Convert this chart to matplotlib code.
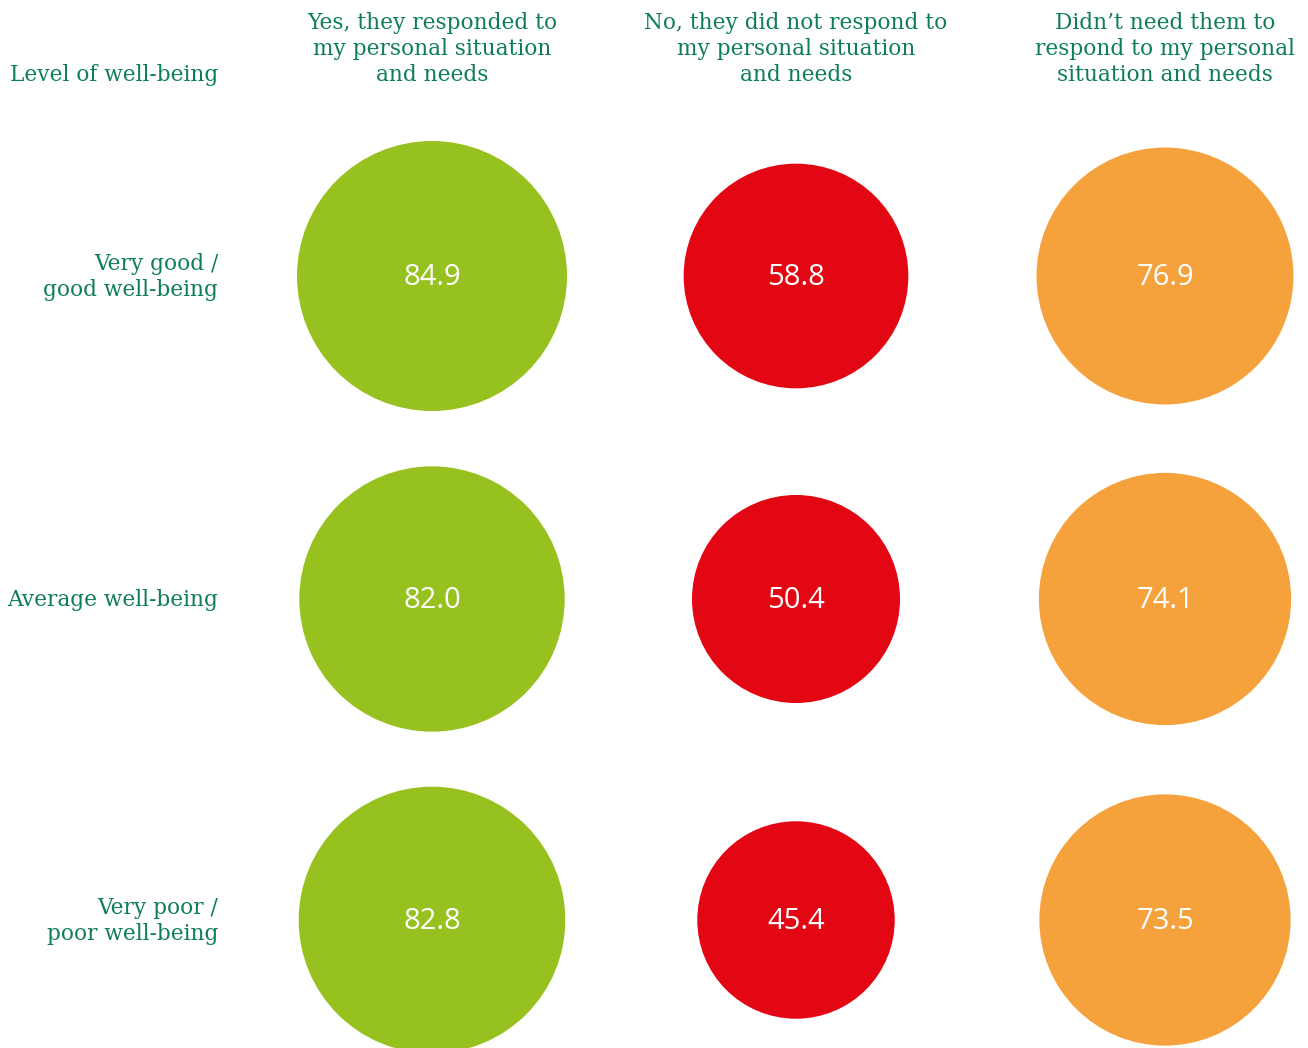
import matplotlib.pyplot as plt
import numpy as np
from matplotlib.patches import Circle

# share of respondents, by column (response) and row (well-being level)
columns = [
    "Yes, they responded to\nmy personal situation\nand needs",
    "No, they did not respond to\nmy personal situation\nand needs",
    "Didn\u2019t need them to\nrespond to my personal\nsituation and needs",
]
rows = [
    "Very good /\ngood well-being",
    "Average well-being",
    "Very poor /\npoor well-being",
]
row_title = "Level of well-being"
yes_vals = [84.9, 82.0, 82.8]
no_vals = [58.8, 50.4, 45.4]
noneed_vals = [76.9, 74.1, 73.5]

colors = ["#97c11f", "#e30613", "#f5a23d"]
text_green = "#0e7d5c"

W, H = 1308, 1048
fig = plt.figure(figsize=(W / 100, H / 100), dpi=100)
ax = fig.add_axes([0, 0, 1, 1])
ax.set_xlim(0, W)
ax.set_ylim(H, 0)
ax.set_aspect("equal")
ax.axis("off")

col_x = [432, 796, 1165]
row_y = [276, 599, 920]
r_max = 135.0   # radius for the largest value; area is proportional to value
v_max = 84.9
line_h = 26
label_font = "DejaVu Serif"
label_size = 15.6

def draw_lines(x, y_center, text, ha):
    lines = text.split("\n")
    n = len(lines)
    for i, ln in enumerate(lines):
        y = y_center + (i - (n - 1) / 2) * line_h
        ax.text(x, y, ln, ha=ha, va="center", color=text_green,
                fontsize=label_size, family=label_font)

for j, series in enumerate([yes_vals, no_vals, noneed_vals]):
    for i, v in enumerate(series):
        r = r_max * np.sqrt(v / v_max)
        ax.add_patch(Circle((col_x[j], row_y[i]), r, facecolor=colors[j],
                            edgecolor="none"))
        ax.text(col_x[j], row_y[i] + 1.5, f"{v:.1f}", ha="center", va="center",
                color="white", fontsize=21, family="Open Sans")
    draw_lines(col_x[j], 49, columns[j], "center")

draw_lines(218, 75, row_title, "right")
for i, lab in enumerate(rows):
    draw_lines(218, row_y[i] + 1, lab, "right")

fig.savefig("out.png", dpi=100)
